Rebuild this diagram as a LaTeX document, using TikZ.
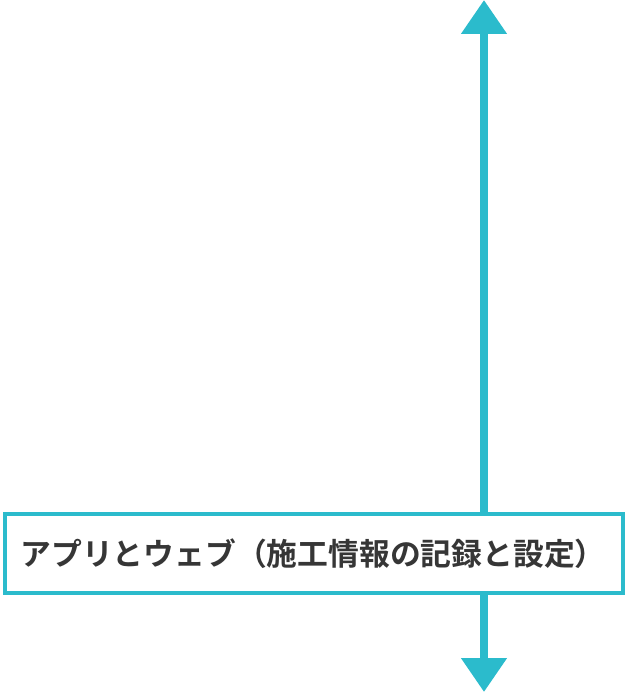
\documentclass[tikz,border=0pt]{standalone}
\usepackage{fontspec}
\setmainfont{Noto Sans CJK JP}
\newfontfamily\jpbold{Noto Sans CJK JP Bold}
\usetikzlibrary{arrows.meta}
\definecolor{teal}{RGB}{43,187,204}
\definecolor{ink}{RGB}{54,54,54}

\begin{document}
\begin{tikzpicture}[x=1pt,y=-1pt,
		flow/.style={draw=teal,line width=8pt,-{Triangle[width=44pt,length=34pt]}},
		label/.style={draw=teal,line width=4pt,fill=white,minimum height=79pt,
			inner xsep=16pt,inner ysep=0pt,text width=586pt,align=left,text=ink,
			font=\jpbold\fontsize{30.8pt}{36pt}\selectfont}]
		\useasboundingbox (0,0) rectangle (628,692);
		\coordinate (top) at (484,0);%upper tip
		\coordinate (bottom) at (484,692);%lower tip
		\node[label] (app) at (313.5,553.75) {\raisebox{-2pt}{アプリとウェブ（施工情報の記録と設定）}};
		\draw[flow] (app.north -| top) -- (top);
		\draw[flow] (app.south -| bottom) -- (bottom);
	\end{tikzpicture}
\end{document}
